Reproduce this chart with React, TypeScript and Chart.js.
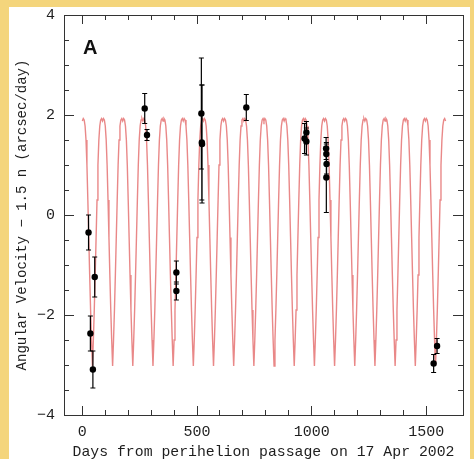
import { useEffect, useRef } from 'react';
import { Chart, registerables } from 'chart.js';

Chart.register(...registerables);

// Axis tick values
const xTickValues = [0, 500, 1000, 1500];
const yTickValues = [-4, -2, 0, 2, 4];

// Observations (days from perihelion, value, 1-sigma error)
const obsDays = [27, 35, 46, 54, 272, 282, 410, 410, 519, 521, 522, 715, 969, 977, 977, 1063, 1064, 1065, 1064, 1532, 1547];
const obsValues = [-0.35, -2.37, -3.09, -1.24, 2.13, 1.6, -1.15, -1.52, 2.03, 1.45, 1.42, 2.15, 1.53, 1.65, 1.47, 1.33, 1.22, 1.02, 0.75, -2.97, -2.62];
const obsErrors = [0.35, 0.35, 0.37, 0.4, 0.3, 0.11, 0.23, 0.18, 1.11, 1.15, 1.18, 0.26, 0.3, 0.22, 0.27, 0.22, 0.2, 0.2, 0.7, 0.18, 0.15];

// Model curve: perihelion (peak) days, and the shape read over one 88-day orbit
const modelPeakDays = [0, 88, 176, 264, 352, 440, 528, 616, 704, 792, 880, 968, 1056, 1144, 1232, 1320, 1408, 1496, 1584];
const modelPhaseDays = [0, 4, 8, 12, 16, 20, 24, 28, 32, 36, 40, 44, 48, 52, 56, 60, 64, 68, 72, 76, 80, 84];
const modelPhaseValues = [1.88, 1.93, 1.9, 1.78, 1.5, 1.0, 0.3, -0.45, -1.2, -1.9, -2.5, -3.02, -2.5, -1.9, -1.2, -0.45, 0.3, 1.0, 1.5, 1.78, 1.9, 1.93];

const MONO = '"Liberation Mono", "DejaVu Sans Mono", monospace';
const AXIS_COLOR = '#333333';
const TEXT_COLOR = '#1e1e1e';

function fmt(v: number): string {
  return v < 0 ? '\u2212' + Math.abs(v) : String(v);
}

export default function App() {
  const canvasRef = useRef<HTMLCanvasElement | null>(null);

  useEffect(() => {
    const canvas = canvasRef.current;
    if (!canvas) return;

    const modelPoints: { x: number; y: number }[] = [];
    for (let i = 0; i < modelPeakDays.length - 1; i++) {
      for (let j = 0; j < modelPhaseDays.length; j++) {
        modelPoints.push({ x: modelPeakDays[i] + modelPhaseDays[j], y: modelPhaseValues[j] });
      }
    }
    modelPoints.push({ x: modelPeakDays[modelPeakDays.length - 1], y: modelPhaseValues[0] });

    const points = obsDays.map((d, i) => ({ x: d, y: obsValues[i] }));
    const errorBars: { x: number; y: number | null }[] = [];
    obsDays.forEach((d, i) => {
      errorBars.push({ x: d, y: obsValues[i] - obsErrors[i] });
      errorBars.push({ x: d, y: obsValues[i] + obsErrors[i] });
      errorBars.push({ x: d, y: null });
    });

    const tickFont = { family: MONO, size: 15 };
    const gridOpts = (len: number) => ({
      drawOnChartArea: false,
      drawTicks: true,
      tickLength: len,
      tickColor: AXIS_COLOR,
      tickWidth: 1,
    });
    const fitH = (h: number) => (s: any) => {
      s.height = h;
      s.paddingLeft = 0;
      s.paddingRight = 0;
      s.paddingTop = 0;
      s.paddingBottom = 0;
    };
    const fitW = (w: number) => (s: any) => {
      s.width = w;
      s.paddingLeft = 0;
      s.paddingRight = 0;
      s.paddingTop = 0;
      s.paddingBottom = 0;
    };
    const majorX = (s: any) => {
      s.ticks = xTickValues.map((v) => ({ value: v }));
    };
    const majorY = (s: any) => {
      s.ticks = yTickValues.map((v) => ({ value: v }));
    };

    const chart = new Chart(canvas, {
      type: 'scatter',
      data: {
        datasets: [
          {
            label: 'obs',
            data: points,
            backgroundColor: '#000',
            borderColor: '#000',
            pointRadius: 3.2,
            pointBorderWidth: 0,
            xAxisID: 'x',
            yAxisID: 'y',
          },
          {
            label: 'err',
            data: errorBars as any,
            showLine: true,
            spanGaps: false,
            borderColor: '#000',
            borderWidth: 1.2,
            pointStyle: 'line',
            pointRadius: 2.5,
            pointBorderWidth: 1,
            pointBorderColor: '#000',
            pointBackgroundColor: '#000',
            xAxisID: 'x',
            yAxisID: 'y',
          },
          {
            label: 'model',
            data: modelPoints,
            showLine: true,
            borderColor: 'rgba(222,80,80,0.68)',
            borderWidth: 1.4,
            pointRadius: 0,
            tension: 0,
            xAxisID: 'x',
            yAxisID: 'y',
          },
        ],
      },
      options: {
        responsive: false,
        animation: false,
        devicePixelRatio: 1,
        layout: { padding: { left: 0, right: 11, top: 15, bottom: 0 } },
        plugins: { legend: { display: false }, tooltip: { enabled: false } },
        scales: {
          x: {
            type: 'linear',
            position: 'bottom',
            weight: 1,
            min: -80,
            max: 1660,
            afterBuildTicks: majorX,
            afterFit: fitH(44),
            ticks: {
              font: tickFont,
              color: TEXT_COLOR,
              padding: 17,
              autoSkip: false,
              maxRotation: 0,
              callback: (v: any) => fmt(Number(v)),
            },
            grid: gridOpts(-9),
            border: { display: true, color: AXIS_COLOR, width: 1 },
            title: {
              display: true,
              text: 'Days from perihelion passage on 17 Apr 2002',
              font: { family: MONO, size: 14.8, lineHeight: 1 },
              color: TEXT_COLOR,
              padding: { top: 0, bottom: 0 },
            },
          },
          xMinor: {
            type: 'linear',
            position: 'bottom',
            weight: 0,
            min: -80,
            max: 1660,
            afterFit: fitH(0),
            ticks: { display: false, stepSize: 100, autoSkip: false },
            grid: gridOpts(-5),
            border: { display: false },
          },
          xTop: {
            type: 'linear',
            position: 'top',
            weight: 1,
            min: -80,
            max: 1660,
            afterBuildTicks: majorX,
            afterFit: fitH(0),
            ticks: { display: false, autoSkip: false },
            grid: gridOpts(-9),
            border: { display: true, color: AXIS_COLOR, width: 1 },
          },
          xTopMinor: {
            type: 'linear',
            position: 'top',
            weight: 0,
            min: -80,
            max: 1660,
            afterFit: fitH(0),
            ticks: { display: false, stepSize: 100, autoSkip: false },
            grid: gridOpts(-5),
            border: { display: false },
          },
          y: {
            type: 'linear',
            position: 'left',
            weight: 1,
            min: -4,
            max: 4,
            afterBuildTicks: majorY,
            afterFit: fitW(64),
            ticks: {
              font: tickFont,
              color: TEXT_COLOR,
              padding: 19,
              autoSkip: false,
              callback: (v: any) => fmt(Number(v)),
            },
            grid: gridOpts(-10),
            border: { display: true, color: AXIS_COLOR, width: 1 },
            title: {
              display: true,
              text: 'Angular Velocity \u2212 1.5 n (arcsec/day)',
              font: { family: MONO, size: 14, lineHeight: 1 },
              color: TEXT_COLOR,
              padding: { top: 15, bottom: 0 },
            },
          },
          yMinor: {
            type: 'linear',
            position: 'left',
            weight: 0,
            min: -4,
            max: 4,
            afterFit: fitW(0),
            ticks: { display: false, stepSize: 0.5, autoSkip: false },
            grid: gridOpts(-5),
            border: { display: false },
          },
          yRight: {
            type: 'linear',
            position: 'right',
            weight: 1,
            min: -4,
            max: 4,
            afterBuildTicks: majorY,
            afterFit: fitW(0),
            ticks: { display: false, autoSkip: false },
            grid: gridOpts(-10),
            border: { display: true, color: AXIS_COLOR, width: 1 },
          },
          yRightMinor: {
            type: 'linear',
            position: 'right',
            weight: 0,
            min: -4,
            max: 4,
            afterFit: fitW(0),
            ticks: { display: false, stepSize: 0.5, autoSkip: false },
            grid: gridOpts(-5),
            border: { display: false },
          },
        },
      } as any,
    });

    return () => {
      chart.destroy();
    };
  }, []);

  return (
    <div
      style={{
        position: 'fixed',
        left: 0,
        top: 0,
        width: 474,
        height: 459,
        background: '#F4D57C',
        overflow: 'hidden',
      }}
    >
      <div
        style={{
          position: 'absolute',
          left: 9,
          top: 7,
          width: 461,
          height: 452,
          background: '#ffffff',
        }}
      />
      <canvas
        ref={canvasRef}
        width={474}
        height={459}
        style={{ position: 'absolute', left: 0, top: 0, width: 474, height: 459 }}
      />
      <div
        style={{
          position: 'absolute',
          left: 83,
          top: 37,
          font: 'bold 20px "Liberation Sans", Arial, sans-serif',
          lineHeight: '20px',
          color: '#111',
        }}
      >
        A
      </div>
    </div>
  );
}
